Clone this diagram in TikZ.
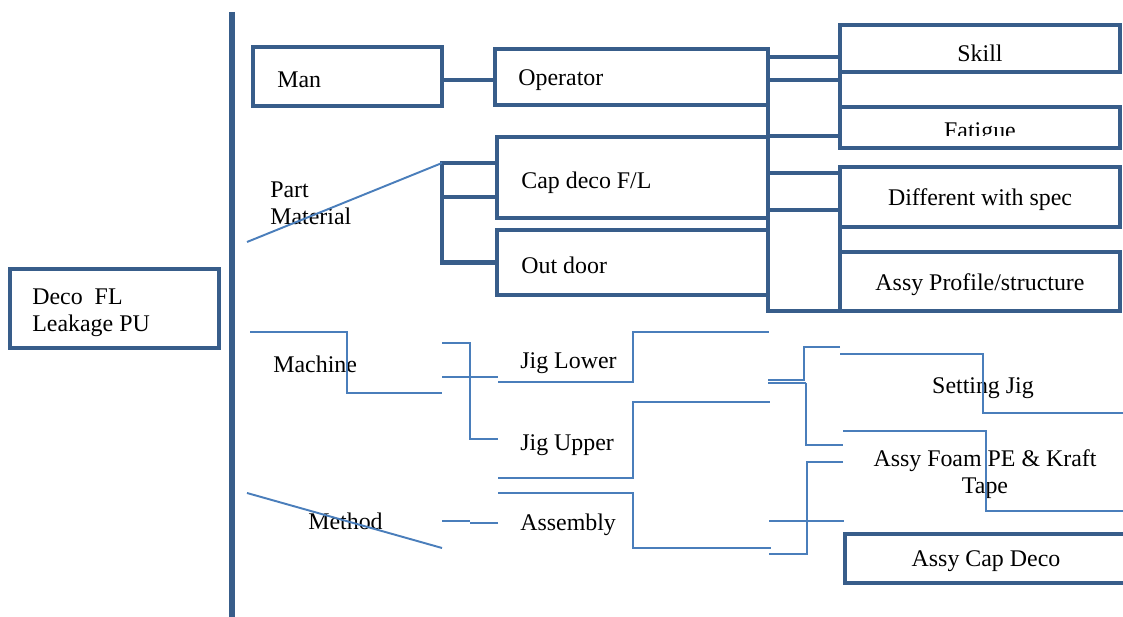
\documentclass[tikz,border=0pt]{standalone}
\usepackage{fontspec}
\setmainfont{Liberation Serif}
\usetikzlibrary{positioning}

\definecolor{boxblue}{RGB}{56,93,138}
\definecolor{lineblue}{RGB}{74,126,187}

\begin{document}
\begin{tikzpicture}[x=0.02cm, y=-0.02cm, font=\fontsize{13.6}{15.5}\selectfont,
 box/.style={draw=boxblue, line width=2.8pt, inner sep=0pt, outer sep=0pt},
 txt/.style={inner sep=0pt, align=left, yshift=-0.06cm},
 thk/.style={draw=boxblue, line width=2.8pt},
 thn/.style={draw=lineblue, line width=1.1pt}]
\clip (0,0) rectangle (1123,617);
% spine
\coordinate (sptop) at (232,12);
\coordinate (spbot) at (232,617);
\draw[boxblue, line width=3.4pt] (sptop) -- (spbot);
% effect
\node[box, minimum width=4.18cm, minimum height=1.58cm] (deco) at (114.5,308.5) {};
\node[txt, right=0.44cm of deco.west, yshift=-0.02cm] (decot) {Deco~ FL\\Leakage PU};
% man
\node[box, minimum width=3.78cm, minimum height=1.18cm] (man) at (347.5,76.5) {};
\node[txt, right=0.48cm of man.west] (mant) {Man};
\node[box, minimum width=5.46cm, minimum height=1.12cm] (oper) at (631.5,77) {};
\node[txt, right=0.46cm of oper.west] (opert) {Operator};
% material
\node[box, minimum width=5.42cm, minimum height=1.62cm] (cap) at (632.5,177.5) {};
\node[txt, right=0.48cm of cap.west, yshift=-0.04cm] (capt) {Cap deco F/L};
\node[box, minimum width=5.42cm, minimum height=1.30cm] (outd) at (632.5,262.5) {};
\node[txt, right=0.48cm of outd.west] (outdt) {Out door};
% right column
\node[box, minimum width=5.6cm, minimum height=0.94cm] (skill) at (980,48.5) {};
\node[txt, yshift=-0.03cm] (skillt) at (skill) {Skill};
\node[box, minimum width=5.6cm, minimum height=0.82cm] (fatigue) at (980,127.5) {};
\node[box, minimum width=5.6cm, minimum height=1.2cm] (diff) at (980,197) {};
\node[txt] (difft) at (diff) {Different with spec};
\node[box, minimum width=5.6cm, minimum height=1.18cm] (assyprof) at (980,281.5) {};
\node[txt] (assyproft) at (assyprof) {Assy Profile/structure};
\node[box, minimum width=5.7cm, minimum height=0.98cm] (assycap) at (987.5,558.5) {};
\node[txt] (assycapt) at (986,558) {Assy Cap Deco};
\begin{scope}
\clip (840,108) rectangle (1120,136);
\node[inner sep=0pt, anchor=base] (fatiguet) at (980,139) {Fatigue};
\end{scope}
% categories
\node[txt, anchor=west] (partmat) at (270,200) {Part\\Material};
\node[txt, anchor=west] (machine) at (273,361) {Machine};
\node[txt, anchor=west] (method) at (308,518) {Method};
\node[txt, anchor=west] (jiglow) at (520,360) {Jig Lower};
\node[txt, anchor=west] (jigup) at (520,442) {Jig Upper};
\node[txt, anchor=west] (assembly) at (520,522) {Assembly};
\node[txt, align=center] (setjig) at (983,385) {Setting Jig};
\node[txt, align=center] (foam) at (985,471) {Assy Foam PE \& Kraft\\Tape};

% thick connectors
\draw[thk] (man.east |- 0,80) -- (oper.west |- 0,80);
\coordinate (pmtop) at (442,163);
\coordinate (pmmid) at (442,197);
\draw[thk] (cap.west |- pmtop) -- (pmtop) |- (outd.west);
\draw[thk] (pmmid) -- (pmmid -| cap.west);
\draw[thk] (oper.north east) |- (assyprof.south west);
\foreach \yy in {57,80,136,173,210}
  \draw[thk] (oper.east |- 0,\yy) -- (skill.west |- 0,\yy);
\draw[thk] (skill.north west) -- (fatigue.south west);
\draw[thk] (diff.north west) -- (assyprof.south west);

% thin connectors
\coordinate (pmlow) at (247,242);
\draw[thn] (pmlow) -- (pmtop);
\coordinate (mcin) at (250,332);
\coordinate (mcout) at (442,393);
\draw[thn] (mcin) -- ++(97,0) |- (mcout);
\coordinate (ja) at (442,343);
\coordinate (jb) at (498,439);
\draw[thn] (ja) -- ++(28,0) |- (jb);
\coordinate (jc) at (442,377);
\coordinate (jd) at (498,377);
\draw[thn] (jc) -- (jd);
\coordinate (jlo) at (498,382);
\coordinate (ra) at (769,332);
\draw[thn] (jlo) -- ++(135,0) |- (ra);
\coordinate (jup) at (498,478);
\coordinate (rb) at (770,402);
\draw[thn] (jup) -- ++(135,0) |- (rb);
\coordinate (asb) at (498,493);
\coordinate (rc) at (771,548);
\draw[thn] (asb) -- ++(135,0) |- (rc);
\coordinate (mdA) at (247,493);
\coordinate (mdB) at (442,548);
\draw[thn] (mdA) -- (mdB);
\coordinate (meA) at (442,521);
\coordinate (meB) at (498,523);
\draw[thn] (meA) -- ++(28,0);
\draw[thn] (meB) -- ++(-28,0);
\coordinate (ka) at (768,380);
\coordinate (kb) at (768,383);
\draw[thn] (ka) -- ++(37,0);
\draw[thn] (kb) -- ++(38,0);
\coordinate (sa) at (840,347);
\draw[thn] (sa) -- ++(-36,0) -- ++(0,33);
\coordinate (sb) at (843,445);
\draw[thn] (806,383) |- (sb);
\coordinate (sc) at (840,354);
\coordinate (sd) at (1123,413);
\draw[thn] (sc) -- ++(143,0) |- (sd);
\coordinate (se) at (843,431);
\coordinate (sf) at (1123,511);
\draw[thn] (se) -- ++(143,0) |- (sf);
\coordinate (sg) at (843,462);
\coordinate (sh) at (769,554);
\draw[thn] (sg) -- ++(-36,0) |- (sh);
\coordinate (si) at (769,521);
\coordinate (sj) at (844,521);
\draw[thn] (si) -- (sj);
\end{tikzpicture}
\end{document}
